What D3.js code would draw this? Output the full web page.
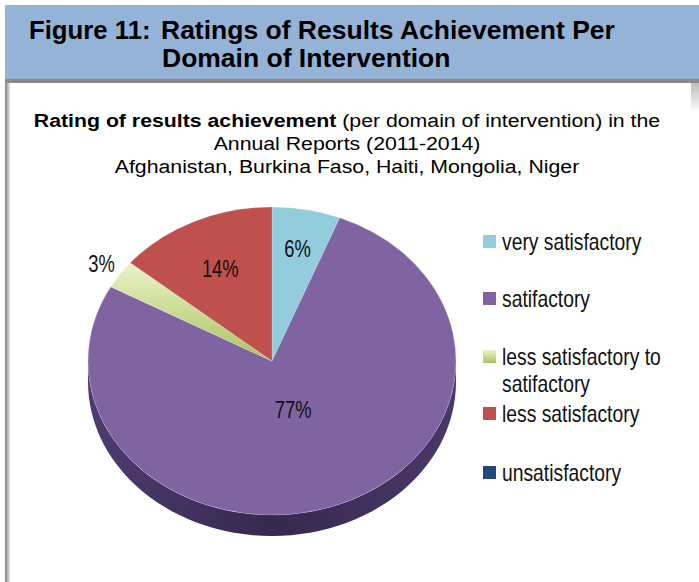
<!DOCTYPE html>
<html>
<head>
<meta charset="utf-8">
<script src="https://cdn.jsdelivr.net/npm/d3@7"></script>
<style>
  body { margin: 0; background: #fff; }
  svg { display: block; }
</style>
</head>
<body>
<div id="chart"></div>
<script>
// Chart data
let categories = ['very satisfactory', 'satifactory', 'less satisfactory to satifactory', 'less satisfactory', 'unsatisfactory']
let legendLines = [['very satisfactory'], ['satifactory'], ['less satisfactory to', 'satifactory'], ['less satisfactory'], ['unsatisfactory']]
let shares = [6, 77, 3, 14, 0]
let colors = ['#93CDDD', '#8064A2', '#C3D69B', '#C0504D', '#1F497D']
let sideColors = ['#4F7F8C', '#3E2D5C', '#6C8040', '#7A2F2D', '#102848']

let titleLines = ['Figure 11:', 'Ratings of Results Achievement Per', 'Domain of Intervention']
let subtitleBold = 'Rating of results achievement'
let subtitleLines = [' (per domain of intervention) in the', 'Annual Reports (2011-2014)', 'Afghanistan, Burkina Faso, Haiti, Mongolia, Niger']

// Layout constants
let W = 699, H = 582
let cx = 272, cy = 361, rx = 184, ry = 154, depth = 21
let squash = ry / rx
let labelRadius = [0.74, 0.34, 1.12, 0.66, 0]
let sans = '"Liberation Sans", Arial, sans-serif'

let svg = d3.select('#chart').append('svg')
  .attr('width', W)
  .attr('height', H)

let defs = svg.append('defs')

let edgeGrad = defs.append('linearGradient').attr('id', 'edge-left')
  .attr('x1', '0%').attr('x2', '100%')
edgeGrad.append('stop').attr('offset', '0%').attr('stop-color', '#7f7f7f')
edgeGrad.append('stop').attr('offset', '100%').attr('stop-color', '#e6e6e6')

let rightGrad = defs.append('linearGradient').attr('id', 'edge-right')
  .attr('x1', '0%').attr('x2', '0%').attr('y1', '0%').attr('y2', '100%')
rightGrad.append('stop').attr('offset', '0%').attr('stop-color', '#bdbdbd')
rightGrad.append('stop').attr('offset', '100%').attr('stop-color', '#ffffff')

let greenGrad = defs.append('linearGradient').attr('id', 'green-slice')
  .attr('x1', '0%').attr('x2', '0%').attr('y1', '0%').attr('y2', '100%')
greenGrad.append('stop').attr('offset', '0%').attr('stop-color', '#EAF3C8')
greenGrad.append('stop').attr('offset', '100%').attr('stop-color', '#A9C45E')

// Header band
svg.append('rect').attr('x', 5).attr('y', 5).attr('width', W - 5).attr('height', 74)
  .attr('fill', '#95B3D7')
svg.append('rect').attr('x', 5).attr('y', 79).attr('width', W - 5).attr('height', 4)
  .attr('fill', '#8a8a8a')
svg.append('rect').attr('x', 5).attr('y', 83).attr('width', 5).attr('height', H - 83)
  .attr('fill', 'url(#edge-left)')
svg.append('rect').attr('x', 691).attr('y', 83).attr('width', 8).attr('height', 30)
  .attr('fill', 'url(#edge-right)')

// helper: text stretched horizontally
function stretched(parent, x, y, sx, anchor) {
  return parent.append('g')
    .attr('transform', `translate(${x},${y}) scale(${sx},1)`)
    .append('text')
    .attr('text-anchor', anchor || 'start')
}

let title = svg.append('g')
  .style('font-family', sans)
  .style('font-weight', 'bold')
  .style('font-size', '25px')
  .attr('fill', '#000')
stretched(title, 29, 39, 1.03).text(titleLines[0])
stretched(title, 161, 39, 1.06).text(titleLines[1])
stretched(title, 162, 67, 1.06).text(titleLines[2])

// Subtitle
let sub = svg.append('g')
  .style('font-family', sans)
  .style('font-size', '19px')
  .attr('fill', '#000')
let first = stretched(sub, 347, 127, 1.12, 'middle')
first.append('tspan').style('font-weight', 'bold').text(subtitleBold)
first.append('tspan').text(subtitleLines[0])
subtitleLines.slice(1).forEach(function(t, i) {
  stretched(sub, 347, 150 + i * 23, 1.12, 'middle').text(t)
})

// Pie
let pie = d3.pie().sort(null).value(function(d) { return d })
let arcs = pie(shares)
let arc = d3.arc().innerRadius(0).outerRadius(rx)

let pieG = svg.append('g').attr('transform', `translate(${cx},${cy})`)

// Side wall of the tilted pie (front half only)
function sidePath(a0, a1) {
  let lo = Math.max(a0, Math.PI / 2)
  let hi = Math.min(a1, Math.PI * 1.5)
  if (hi <= lo) return null
  let steps = 60
  let top = d3.range(steps + 1).map(function(i) {
    let a = lo + (hi - lo) * i / steps
    return [rx * Math.sin(a), -ry * Math.cos(a)]
  })
  let bottom = top.slice().reverse().map(function(p) { return [p[0], p[1] + depth] })
  return d3.line()(top.concat(bottom)) + 'Z'
}

let sideGrad = defs.append('linearGradient').attr('id', 'side-shade')
  .attr('x1', '0%').attr('x2', '100%')
sideGrad.append('stop').attr('offset', '0%').attr('stop-color', '#4E3C70')
sideGrad.append('stop').attr('offset', '50%').attr('stop-color', '#36284F')
sideGrad.append('stop').attr('offset', '100%').attr('stop-color', '#4A3969')

pieG.selectAll('path.side')
  .data(arcs.filter(function(d) { return sidePath(d.startAngle, d.endAngle) }))
  .enter().append('path')
  .attr('class', 'side')
  .attr('d', function(d) { return sidePath(d.startAngle, d.endAngle) })
  .attr('fill', function(d) { return d.index === 1 ? 'url(#side-shade)' : sideColors[d.index] })

pieG.append('g').attr('transform', `scale(1,${squash})`)
  .selectAll('path.slice')
  .data(arcs.filter(function(d) { return d.value > 0 }))
  .enter().append('path')
  .attr('class', 'slice')
  .attr('d', arc)
  .attr('fill', function(d) { return d.index === 2 ? 'url(#green-slice)' : colors[d.index] })
  .attr('stroke', 'rgba(255,255,255,0.35)')
  .attr('stroke-width', 0.6)

// Slice labels
arcs.filter(function(d) { return d.value > 0 }).forEach(function(d) {
  let a = (d.startAngle + d.endAngle) / 2
  let x = Math.sin(a) * rx * labelRadius[d.index]
  let y = -Math.cos(a) * ry * labelRadius[d.index] + 8
  stretched(pieG, x, y, 0.8, 'middle')
    .style('font-family', sans)
    .style('font-size', '23px')
    .attr('fill', '#111')
    .text(d.value + '%')
})

// Legend
let legendY = [242, 299, 357, 414, 473]
let legend = svg.append('g').attr('transform', 'translate(483,0)')
let items = legend.selectAll('g.item')
  .data(categories)
  .enter().append('g')
  .attr('class', 'item')
  .attr('transform', function(d, i) { return `translate(0,${legendY[i]})` })

items.append('rect')
  .attr('x', 0).attr('y', -7)
  .attr('width', 13).attr('height', 13)
  .attr('fill', function(d, i) { return i === 2 ? 'url(#green-slice)' : colors[i] })

items.each(function(d, i) {
  let t = stretched(d3.select(this), 19, 0, 0.84)
    .style('font-family', sans)
    .style('font-size', '23px')
    .attr('fill', '#111')
  t.selectAll('tspan')
    .data(legendLines[i])
    .enter().append('tspan')
    .attr('x', 0)
    .attr('dy', function(s, j) { return j === 0 ? 8 : 27 })
    .text(function(s) { return s })
})
</script>
</body>
</html>
